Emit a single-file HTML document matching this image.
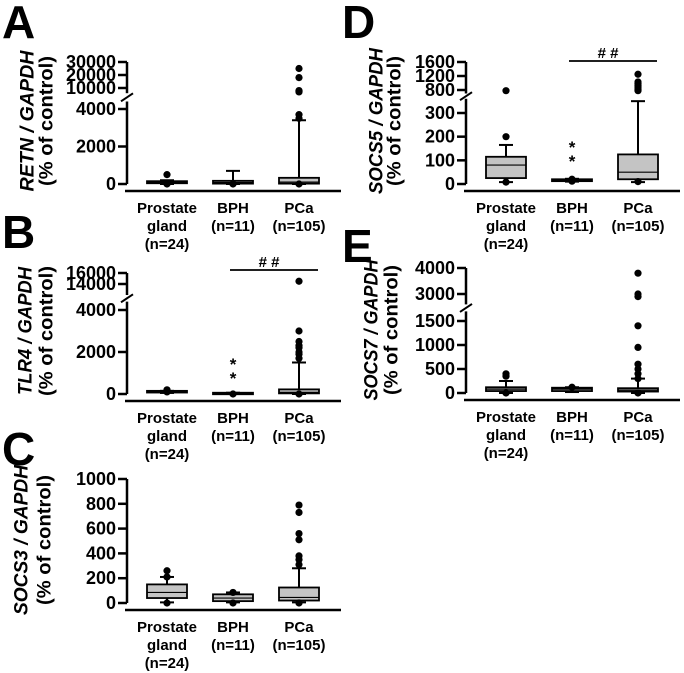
<!DOCTYPE html>
<html><head><meta charset="utf-8"><style>
html,body{margin:0;padding:0;background:#fff;}
svg{display:block;font-family:"Liberation Sans",Arial,sans-serif;font-weight:bold;}
</style></head><body>
<svg id="fig" width="684" height="673" viewBox="0 0 684 673"></svg>
<script>
// ---- data ----
const groupNames = ["Prostate gland (n=24)", "BPH (n=11)", "PCa (n=105)"];
const A_q1 = [40, 20, 20];
const A_med = [90, 80, 100];
const A_q3 = [150, 170, 330];
const A_wlo = [0, 0, 0];
const A_whi = [200, 700, 3400];
const A_out = [[500, 0], [0], [25000, 18000, 8000, 7500, 7000, 3700, 3500, 0]];
const A_ticksLow = [0, 2000, 4000];
const A_ticksHigh = [10000, 20000, 30000];

const B_q1 = [70, 20, 30];
const B_med = [100, 40, 80];
const B_q3 = [150, 60, 220];
const B_wlo = [50, 0, 0];
const B_whi = [150, 60, 1500];
const B_out = [[200, 100], [0], [14500, 3000, 2500, 2300, 2200, 2000, 1900, 1700, 0]];
const B_ticksLow = [0, 2000, 4000];
const B_ticksHigh = [14000, 16000];

const C_q1 = [40, 15, 20];
const C_med = [85, 40, 45];
const C_q3 = [150, 70, 125];
const C_wlo = [5, 5, 5];
const C_whi = [210, 85, 280];
const C_out = [[260, 210, 0], [85, 0], [790, 730, 560, 510, 380, 350, 310, 0]];
const C_ticks = [0, 200, 400, 600, 800, 1000];

const D_q1 = [25, 12, 20];
const D_med = [80, 15, 50];
const D_q3 = [115, 20, 125];
const D_wlo = [8, 10, 8];
const D_whi = [165, 22, 350];
const D_out = [[780, 200, 8], [20, 12], [1250, 1030, 980, 940, 900, 860, 820, 780, 10]];
const D_ticksLow = [0, 100, 200, 300];
const D_ticksHigh = [800, 1200, 1600];

const E_q1 = [40, 40, 30];
const E_med = [80, 80, 60];
const E_q3 = [120, 110, 100];
const E_wlo = [0, 20, 0];
const E_whi = [250, 120, 300];
const E_out = [[400, 350, 0], [120], [3800, 3000, 2900, 1400, 950, 600, 500, 400, 300, 0]];
const E_ticksLow = [0, 500, 1000, 1500];
const E_ticksHigh = [3000, 4000];

// ---- drawing ----
const NS = "http://www.w3.org/2000/svg";
const svg = document.getElementById("fig");
function mk(tag, attrs, parent, text) {
  const e = document.createElementNS(NS, tag);
  for (const k in attrs) e.setAttribute(k, attrs[k]);
  if (text !== undefined) e.textContent = text;
  (parent || svg).appendChild(e);
  return e;
}
function segScale(segs) {
  return function (v) {
    for (const s of segs) {
      if (v >= s.d0 && v <= s.d1) return s.p0 + (v - s.d0) * (s.p1 - s.p0) / (s.d1 - s.d0);
    }
    const s = v < segs[0].d0 ? segs[0] : segs[segs.length - 1];
    return s.p0 + (v - s.d0) * (s.p1 - s.p0) / (s.d1 - s.d0);
  };
}

function panel(cfg) {
  const g = mk("g", {});
  
  
  const y = segScale(cfg.segs);
  const ax = cfg.axisX;
  // letter
  const L = mk("text", {x: cfg.letterX, y: cfg.letterY, "font-size": 46}, g, cfg.letter);
  
  
  // y-axis title
  const cy = cfg.baseY - 70;
  const t1 = mk("text", {transform: `translate(${cfg.t1x},${cy}) rotate(-90)`, "text-anchor": "middle", "dominant-baseline": "central", "font-size": 19, "font-style": "italic", textLength: cfg.t1len, lengthAdjust: "spacingAndGlyphs"}, g, cfg.title);
  
  
  const t2 = mk("text", {transform: `translate(${cfg.t2x},${cy}) rotate(-90)`, "text-anchor": "middle", "dominant-baseline": "central", "font-size": 19, textLength: 130, lengthAdjust: "spacingAndGlyphs"}, g, "(% of control)");
  
  
  // axis segments
  cfg.segs.forEach((s, i) => {
    const l = mk("line", {x1: ax, x2: ax, y1: s.p0, y2: s.p1, stroke: "#000", "stroke-width": 2.5}, g);
    
    
    if (i > 0) {
      const mid = (cfg.segs[i - 1].p1 + s.p0) / 2;
      const b = mk("line", {x1: ax - 6, y1: mid + 4, x2: ax + 6, y2: mid - 4, stroke: "#000", "stroke-width": 2}, g);
      
      
    }
  });
  // ticks
  cfg.ticks.forEach(t => {
    const ty = y(t);
    const tk = mk("line", {x1: ax - 9, x2: ax, y1: ty, y2: ty, stroke: "#000", "stroke-width": 2.5}, g);
    
    
    const tl = mk("text", {x: ax - 11, y: ty, "text-anchor": "end", "dominant-baseline": "central", "font-size": 18}, g, String(t));
    
    
  });
  // x axis
  const xl = mk("line", {x1: ax - 2, x2: ax + 214, y1: cfg.baseY, y2: cfg.baseY, stroke: "#000", "stroke-width": 2.5}, g);
  
  
  const cats = [ax + 40, ax + 106, ax + 172];
  const labels = [["Prostate", "gland", "(n=24)"], ["BPH", "(n=11)"], ["PCa", "(n=105)"]];
  cats.forEach((cx, i) => {
    labels[i].forEach((ln, j) => {
      const tx = mk("text", {x: cx, y: cfg.baseY + 22 + j * 18, "text-anchor": "middle", "font-size": 15}, g, ln);
      
      
    });
    const bg = mk("g", {}, g);
    
    
    const w = 20;
    mk("line", {x1: cx, x2: cx, y1: y(cfg.whi[i]), y2: y(cfg.q3[i]), stroke: "#000", "stroke-width": 2}, bg);
    mk("line", {x1: cx, x2: cx, y1: y(cfg.q1[i]), y2: y(cfg.wlo[i]), stroke: "#000", "stroke-width": 2}, bg);
    mk("line", {x1: cx - 7, x2: cx + 7, y1: y(cfg.whi[i]), y2: y(cfg.whi[i]), stroke: "#000", "stroke-width": 2}, bg);
    mk("line", {x1: cx - 7, x2: cx + 7, y1: y(cfg.wlo[i]), y2: y(cfg.wlo[i]), stroke: "#000", "stroke-width": 2}, bg);
    const top = y(cfg.q3[i]), bot = y(cfg.q1[i]);
    mk("rect", {x: cx - w, y: top, width: 2 * w, height: Math.max(bot - top, 1.5), fill: "#c4c4c4", stroke: "#000", "stroke-width": 1.8}, bg);
    mk("line", {x1: cx - w, x2: cx + w, y1: y(cfg.med[i]), y2: y(cfg.med[i]), stroke: "#000", "stroke-width": 1.2}, bg);
    cfg.out[i].forEach(v => {
      const c = mk("circle", {cx: cx, cy: y(v), r: 3.6, fill: "#000"}, bg);
      
      
    });
  });
  if (cfg.stars) {
    [0, 14].forEach(dy => {
      const s = mk("text", {x: cats[1], y: cfg.stars + dy + 6, "text-anchor": "middle", "font-size": 17}, g, "*");
      
      
    });
  }
  if (cfg.sig) {
    const sl = mk("line", {x1: cats[1] - 3, x2: cats[2] + 19, y1: cfg.sig, y2: cfg.sig, stroke: "#000", "stroke-width": 1.8}, g);
    
    
    const st = mk("text", {x: (cats[1] + cats[2]) / 2 + 3, y: cfg.sig - 3, "text-anchor": "middle", "font-size": 15}, g, "# #");
    
    
  }
}

panel({letter: "A", letterX: 2, letterY: 38, axisX: 127, baseY: 191, title: "RETN / GAPDH", t1len: 141, t1x: 28, t2x: 47,
  segs: [{d0: 0, d1: 4400, p0: 184, p1: 101.5}, {d0: 6000, d1: 30000, p0: 93.2, p1: 62}],
  ticks: A_ticksLow.concat(A_ticksHigh), q1: A_q1, med: A_med, q3: A_q3, wlo: A_wlo, whi: A_whi, out: A_out});
panel({letter: "B", letterX: 2, letterY: 248, axisX: 127, baseY: 401, title: "TLR4 / GAPDH", t1len: 128, t1x: 26, t2x: 47,
  segs: [{d0: 0, d1: 4400, p0: 394, p1: 301.6}, {d0: 12000, d1: 16000, p0: 295, p1: 273}],
  ticks: B_ticksLow.concat(B_ticksHigh), q1: B_q1, med: B_med, q3: B_q3, wlo: B_wlo, whi: B_whi, out: B_out, stars: 364, sig: 270});
panel({letter: "C", letterX: 2, letterY: 465, axisX: 127, baseY: 610, title: "SOCS3 / GAPDH", t1len: 150, t1x: 22, t2x: 45,
  segs: [{d0: 0, d1: 1000, p0: 603, p1: 479}],
  ticks: C_ticks, q1: C_q1, med: C_med, q3: C_q3, wlo: C_wlo, whi: C_whi, out: C_out});
panel({letter: "D", letterX: 342, letterY: 38, axisX: 466, baseY: 191, title: "SOCS5 / GAPDH", t1len: 146, t1x: 377, t2x: 395,
  segs: [{d0: 0, d1: 360, p0: 184, p1: 98.8}, {d0: 700, d1: 1600, p0: 93.5, p1: 62}],
  ticks: D_ticksLow.concat(D_ticksHigh), q1: D_q1, med: D_med, q3: D_q3, wlo: D_wlo, whi: D_whi, out: D_out, stars: 147, sig: 61});
panel({letter: "E", letterX: 342, letterY: 262, axisX: 466, baseY: 400, title: "SOCS7 / GAPDH", t1len: 141, t1x: 372, t2x: 392,
  segs: [{d0: 0, d1: 1700, p0: 393, p1: 311.4}, {d0: 2600, d1: 4000, p0: 304.4, p1: 268}],
  ticks: E_ticksLow.concat(E_ticksHigh), q1: E_q1, med: E_med, q3: E_q3, wlo: E_wlo, whi: E_whi, out: E_out});
</script>
</body></html>
